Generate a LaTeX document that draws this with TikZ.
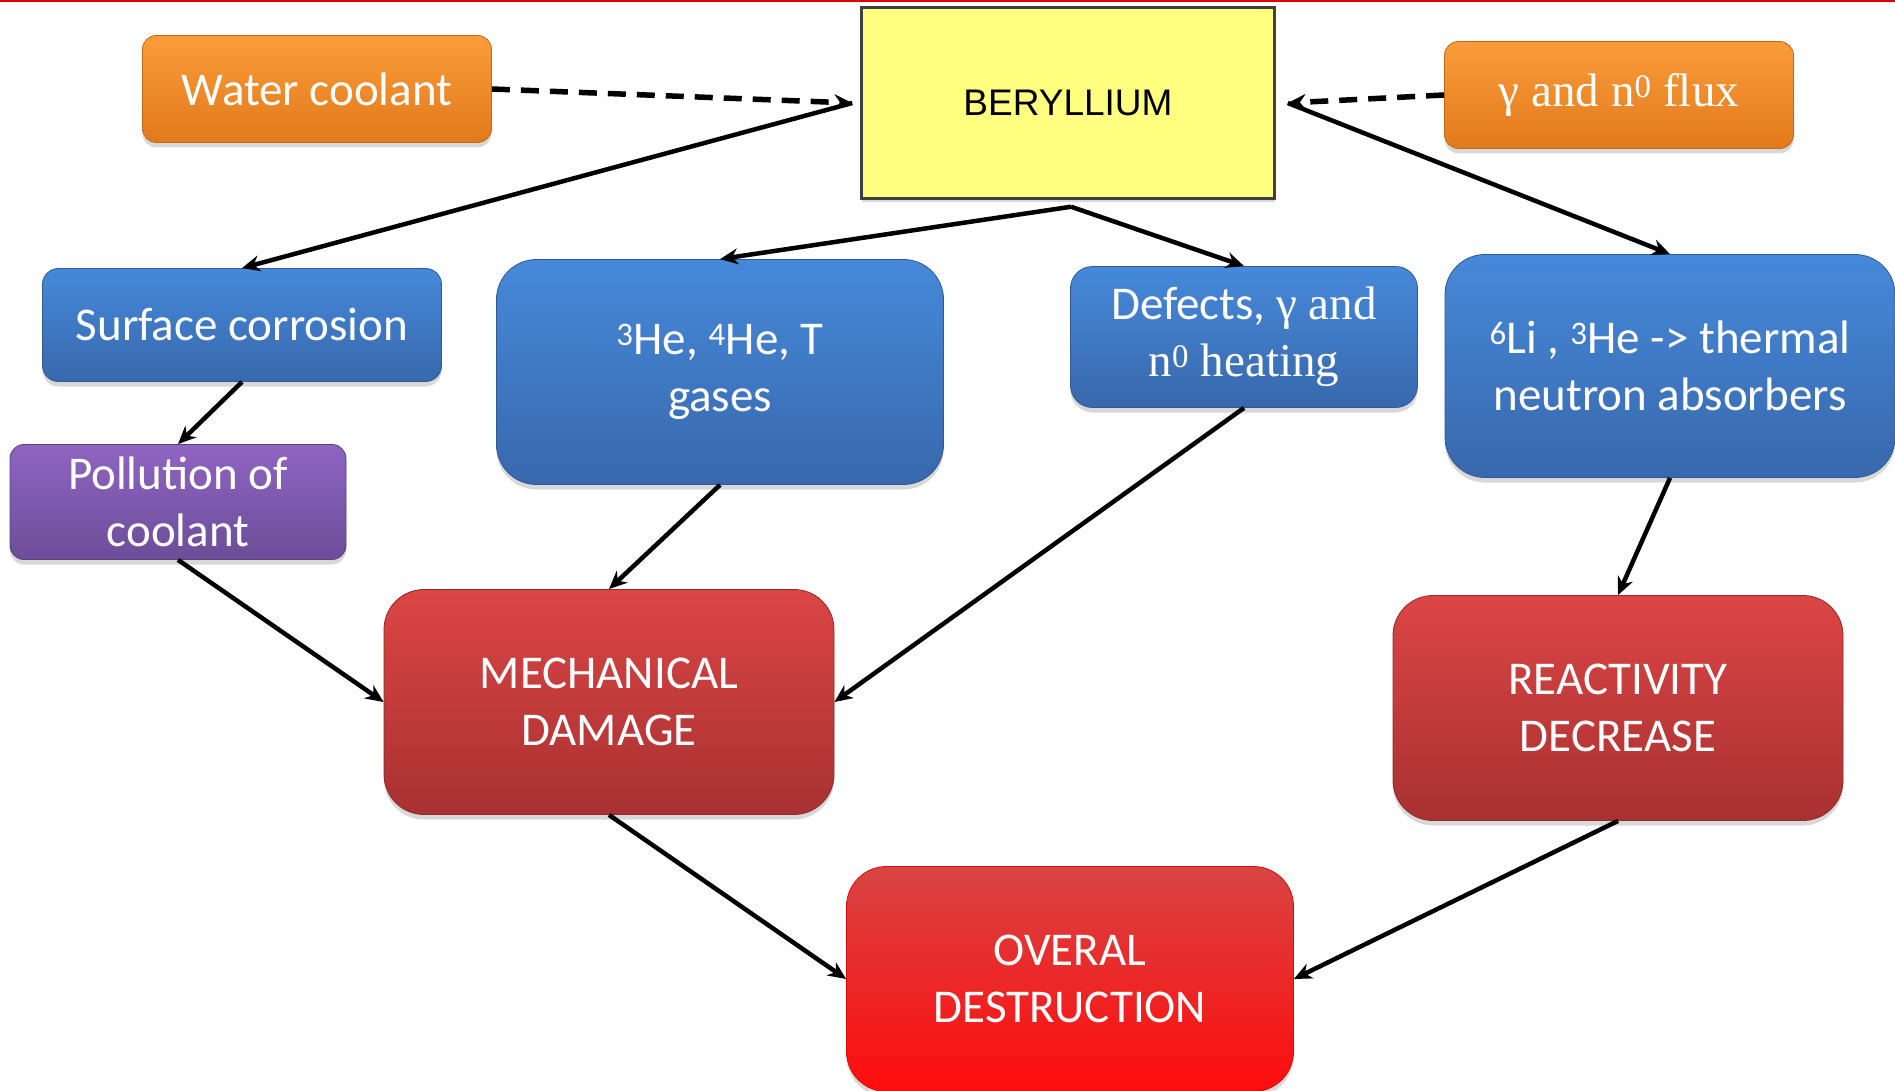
\documentclass[tikz,border=0pt]{standalone}
\usepackage{fontspec}
\setmainfont{Carlito}
\newfontfamily\tnr{Liberation Serif}
\newfontfamily\arl{Liberation Sans}
\usetikzlibrary{arrows.meta,shadows}
\definecolor{orT}{HTML}{FA9C3A}
\definecolor{orB}{HTML}{E27A1C}
\definecolor{blT}{HTML}{4689DA}
\definecolor{blB}{HTML}{3868AC}
\definecolor{puT}{HTML}{8F64C2}
\definecolor{puB}{HTML}{6C4D98}
\definecolor{rdT}{HTML}{DC4545}
\definecolor{rdB}{HTML}{A83131}
\definecolor{ovT}{HTML}{D84444}
\definecolor{ovB}{HTML}{FF0C0C}
\definecolor{yel}{HTML}{FFFF80}
\tikzset{
  box/.style={align=center, inner sep=0pt, text=white,
    font=\fontsize{47}{57}\selectfont,
    drop shadow={opacity=0.3, shadow xshift=0pt, shadow yshift=-5pt}},
  orangebox/.style={box, rounded corners=14pt, top color=orT, bottom color=orB, draw=orB!85!black, line width=0.8pt},
  bluebox/.style={box, top color=blT, bottom color=blB, draw=blB!85!black, line width=0.8pt},
  purplebox/.style={box, rounded corners=14pt, top color=puT, bottom color=puB, draw=puB!85!black, line width=0.8pt},
  redbox/.style={box, rounded corners=40pt, top color=rdT, bottom color=rdB, draw=rdB!85!black, line width=0.8pt},
  ovbox/.style={box, rounded corners=40pt, top color=ovT, bottom color=ovB, draw=ovB!85!black, line width=0.8pt},
  conn/.style={line width=4.5pt, -{Stealth[length=18pt,width=16pt]}},
  dashconn/.style={conn, line width=5.5pt, dash pattern=on 18pt off 11pt},
}
\newcommand{\sups}[1]{\textsuperscript{#1}}
\begin{document}
\begin{tikzpicture}[x=1pt,y=-1pt]
\useasboundingbox (0,0) rectangle (1895,1091);
\fill[white] (0,0) rectangle (1895,1091);
\draw[red!90!black, line width=2.5pt] (0,1) -- (1895,1);

\node[orangebox, minimum width=349pt, minimum height=107pt] (wc) at (317,89) {Water coolant};
\node[fill=yel, draw=black!75, line width=2.5pt, minimum width=413pt, minimum height=191pt, inner sep=0pt,
      font=\arl\fontsize{37}{44}\selectfont, drop shadow={opacity=0.3, shadow xshift=0pt, shadow yshift=-4pt}] (be) at (1068,103) {BERYLLIUM};
\node[orangebox, minimum width=349pt, minimum height=107pt] (gf) at (1619,95) {\tnr γ and n\sups{0} flux};

\node[bluebox, rounded corners=16pt, minimum width=399pt, minimum height=113pt] (sc) at (242,325) {Surface corrosion};
\node[bluebox, rounded corners=40pt, minimum width=447pt, minimum height=225pt] (he) at (720,372) {\sups{3}He, \sups{4}He, T\\gases};
\node[bluebox, rounded corners=22pt, minimum width=347pt, minimum height=141pt] (de) at (1244,337) {Defects, {\tnr γ and}\\{\tnr n\sups{0} heating}};
\node[bluebox, rounded corners=40pt, minimum width=450pt, minimum height=223pt] (li) at (1670,366) {\sups{6}Li , \sups{3}He -> thermal\\neutron absorbers};

\node[purplebox, minimum width=336pt, minimum height=115pt] (po) at (178,502) {Pollution of\\coolant};

\node[redbox, minimum width=450pt, minimum height=225pt] (me) at (609,702) {MECHANICAL\\DAMAGE};
\node[redbox, minimum width=450pt, minimum height=225pt] (re) at (1618,708) {REACTIVITY\\DECREASE};
\node[ovbox, minimum width=447pt, minimum height=225pt] (ov) at (1070,979) {OVERAL\\DESTRUCTION};

\coordinate (bl) at ([xshift=-8pt]be.west);
\coordinate (br) at ([xshift=12pt]be.east);
\coordinate (bb) at ([xshift=3pt,yshift=-7pt]be.south);

\draw[dashconn] (wc.east) -- (bl);
\draw[dashconn] (gf.west) -- (br);
\draw[conn] (bl) -- (sc.north);
\draw[conn] (bb) -- (he.north);
\draw[conn] (bb) -- (de.north);
\draw[conn] (br) -- (li.north);
\draw[conn] (sc.south) -- (po.north);
\draw[conn] (po.south) -- (me.west);
\draw[conn] (he.south) -- (me.north);
\draw[conn] (de.south) -- (me.east);
\draw[conn] (li.south) -- (re.north);
\draw[conn] (me.south) -- (ov.west);
\draw[conn] (re.south) -- (ov.east);
\end{tikzpicture}
\end{document}
